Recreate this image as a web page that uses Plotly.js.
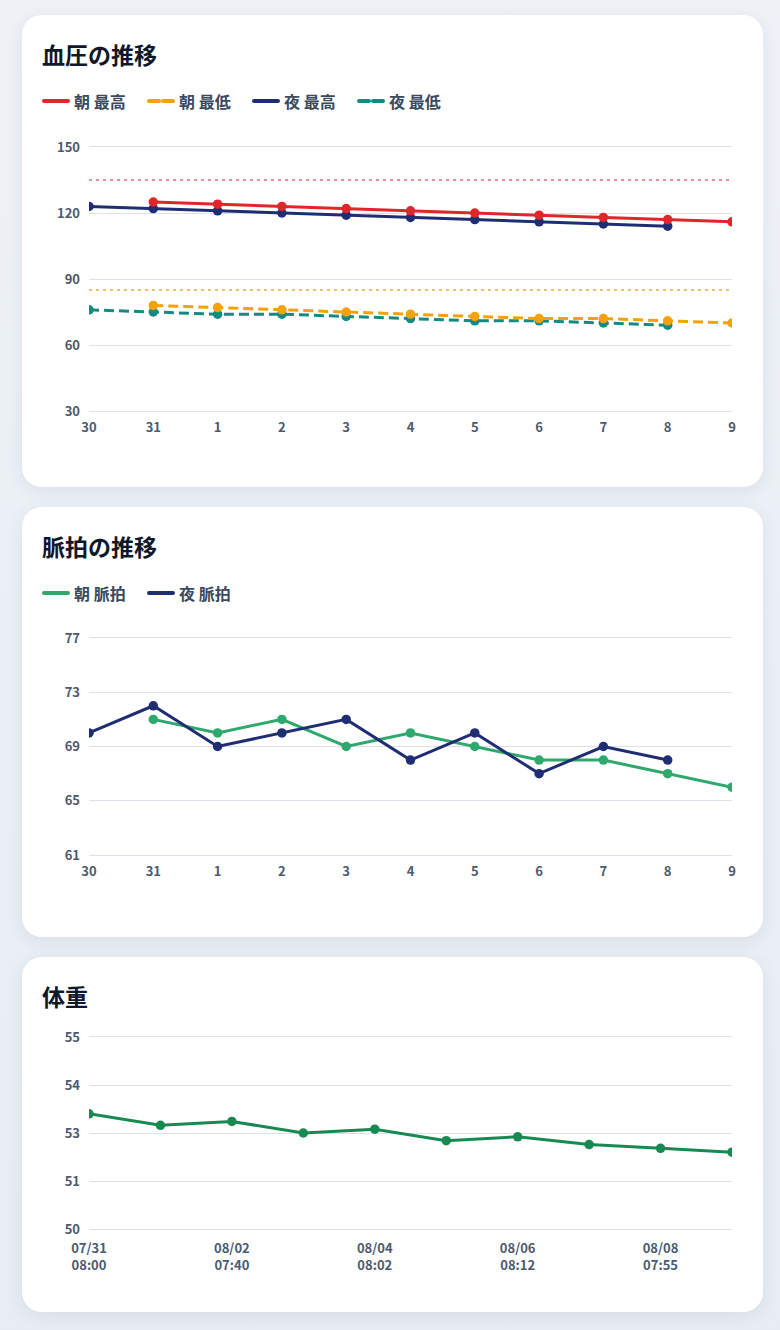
<!DOCTYPE html>
<html lang="ja">
<head>
<meta charset="utf-8">
<script src="https://cdn.plot.ly/plotly-3.0.1.min.js"></script>
<style>
  html, body { margin: 0; padding: 0; }
  body {
    width: 780px; height: 1330px; overflow: hidden;
    background: linear-gradient(180deg, #eef2f7 0%, #e8edf4 100%);
    font-family: "Noto Sans CJK JP", "Noto Sans", sans-serif;
  }
  .card {
    position: absolute; left: 22px; width: 741px;
    background: #fff; border-radius: 20px;
    box-shadow: 0 4px 18px rgba(30, 41, 59, 0.08);
  }
  .card h2 {
    position: absolute; left: 20px; top: 21px; margin: 0;
    font-size: 23px; font-weight: 700; color: #0f172a; line-height: 36px;
  }
  .legend {
    position: absolute; left: 20px; top: 74px; height: 24px;
    display: flex; align-items: center;
  }
  .legend .item {
    display: flex; align-items: center; width: 105px;
    font-size: 16px; font-weight: 700; color: #3b4a5e;
  }
  .legend svg { margin-right: 4px; }
  .plot { position: absolute; left: 0; width: 741px; }
</style>
</head>
<body>
<div class="card" id="card1" style="top:15px;height:472px;">
  <h2>血圧の推移</h2>
  <div class="legend" id="legend1"></div>
  <div class="plot" id="bpChart" style="top:112px;height:340px;"></div>
</div>
<div class="card" id="card2" style="top:507px;height:430px;">
  <h2>脈拍の推移</h2>
  <div class="legend" id="legend2"></div>
  <div class="plot" id="pulseChart" style="top:111px;height:300px;"></div>
</div>
<div class="card" id="card3" style="top:957px;height:355px;">
  <h2>体重</h2>
  <div class="plot" id="weightChart" style="top:60px;height:285px;"></div>
</div>

<script>
// days shown on the blood pressure / pulse charts
const days = ["30", "31", "1", "2", "3", "4", "5", "6", "7", "8", "9"];

// blood pressure (null = no reading)
const morningSys = [null, 125, 124, 123, 122, 121, 120, 119, 118, 117, 116];
const morningDia = [null, 78, 77, 76, 75, 74, 73, 72, 72, 71, 70];
const eveningSys = [123, 122, 121, 120, 119, 118, 117, 116, 115, 114, null];
const eveningDia = [76, 75, 74, 74, 73, 72, 71, 71, 70, 69, null];
const sysLimit = 135;
const diaLimit = 85;

// pulse
const morningPulse = [null, 71, 70, 71, 69, 70, 69, 68, 68, 67, 66];
const eveningPulse = [70, 72, 69, 70, 71, 68, 70, 67, 69, 68, null];

// weight
const weightDates = ["07/31", "08/01", "08/02", "08/03", "08/04", "08/05", "08/06", "08/07", "08/08", "08/09"];
const weightTimes = ["08:00", "", "07:40", "", "08:02", "", "08:12", "", "07:55", ""];
const weightValues = [53.0, 52.7, 52.8, 52.5, 52.6, 52.3, 52.4, 52.2, 52.1, 52.0];
const weightTickVals = [50, 51.25, 52.5, 53.75, 55];
const weightTickText = ["50", "51", "53", "54", "55"];

const COLORS = {
  red: "#e0262b",
  orange: "#f4a20c",
  navy: "#1f2e72",
  teal: "#148a80",
  green: "#2ea86c",
  weight: "#168a50"
};

const GRID = "#dce2ea";
const FONT = "Noto Sans CJK JP, Noto Sans, sans-serif";

function buildLegend(elId, items) {
  const el = document.getElementById(elId);
  items.forEach(it => {
    const dash = it.dashed ? 'stroke-dasharray="10 4"' : "";
    const div = document.createElement("div");
    div.className = "item";
    div.innerHTML =
      '<svg width="28" height="6"><line x1="2" y1="3" x2="26" y2="3" stroke="' + it.color +
      '" stroke-width="4" stroke-linecap="round" ' + dash + '/></svg><span>' + it.name + '</span>';
    el.appendChild(div);
  });
}

function lineTrace(x, y, color, dashed) {
  return {
    x: x, y: y, type: "scatter", mode: "lines+markers",
    line: { color: color, width: 3, dash: dashed ? "10px,5px" : "solid" },
    marker: { color: color, size: 9.5 },
    connectgaps: false,
    showlegend: false,
    hoverinfo: "skip"
  };
}

function refLine(x, value, color) {
  return {
    x: x, y: x.map(() => value), type: "scatter", mode: "lines",
    line: { color: color, width: 1.5, dash: "3px,4px" },
    showlegend: false, hoverinfo: "skip"
  };
}

function baseLayout(margin, standoff) {
  return {
    margin: margin,
    paper_bgcolor: "rgba(0,0,0,0)",
    plot_bgcolor: "rgba(0,0,0,0)",
    showlegend: false,
    font: { family: FONT, color: "#4b5a70" },
    xaxis: {
      type: "category",
      showgrid: false, zeroline: false,
      // top and bottom grid lines (plotly drops grid lines at the range ends)
      showline: true, linecolor: GRID, linewidth: 1, mirror: true,
      ticks: "", ticklabelstandoff: standoff,
      tickfont: { family: FONT, size: 13, color: "#4b5a70", weight: 700 },
      fixedrange: true
    },
    yaxis: {
      showgrid: true, gridcolor: GRID, gridwidth: 1,
      zeroline: false, showline: false,
      ticks: "", ticklabelstandoff: 8,
      ticklabeloverflow: "allow",
      tickfont: { family: FONT, size: 13, color: "#4b5a70", weight: 700 },
      fixedrange: true
    }
  };
}

const config = { staticPlot: true, displayModeBar: false };

// --- blood pressure ---
buildLegend("legend1", [
  { name: "朝 最高", color: COLORS.red },
  { name: "朝 最低", color: COLORS.orange, dashed: true },
  { name: "夜 最高", color: COLORS.navy },
  { name: "夜 最低", color: COLORS.teal, dashed: true }
]);

const bpLayout = baseLayout({ l: 67, r: 31, t: 20, b: 56 }, 4);
bpLayout.xaxis.range = [0, days.length - 1];
bpLayout.yaxis.range = [30, 150];
bpLayout.yaxis.tickvals = [30, 60, 90, 120, 150];

Plotly.newPlot("bpChart", [
  refLine(days, sysLimit, "rgba(224,38,43,0.7)"),
  refLine(days, diaLimit, "rgba(222,160,40,0.85)"),
  lineTrace(days, eveningDia, COLORS.teal, true),
  lineTrace(days, morningDia, COLORS.orange, true),
  lineTrace(days, eveningSys, COLORS.navy, false),
  lineTrace(days, morningSys, COLORS.red, false)
], bpLayout, config);

// --- pulse ---
buildLegend("legend2", [
  { name: "朝 脈拍", color: COLORS.green },
  { name: "夜 脈拍", color: COLORS.navy }
]);

const pulseLayout = baseLayout({ l: 67, r: 31, t: 20, b: 63 }, 4);
pulseLayout.xaxis.range = [0, days.length - 1];
pulseLayout.yaxis.range = [61, 77];
pulseLayout.yaxis.tickvals = [61, 65, 69, 73, 77];

Plotly.newPlot("pulseChart", [
  lineTrace(days, morningPulse, COLORS.green, false),
  lineTrace(days, eveningPulse, COLORS.navy, false)
], pulseLayout, config);

// --- weight ---
const weightLayout = baseLayout({ l: 67, r: 31, t: 20, b: 73 }, 7);
weightLayout.xaxis.range = [0, weightDates.length - 1];
weightLayout.xaxis.tickvals = weightDates.filter((d, i) => weightTimes[i] !== "");
weightLayout.xaxis.ticktext = weightDates
  .map((d, i) => weightTimes[i] !== "" ? d + "<br>" + weightTimes[i] : null)
  .filter(t => t !== null);
weightLayout.yaxis.range = [50, 55];
weightLayout.yaxis.tickvals = weightTickVals;
weightLayout.yaxis.ticktext = weightTickText;

Plotly.newPlot("weightChart", [
  lineTrace(weightDates, weightValues, COLORS.weight, false)
], weightLayout, config);
</script>
</body>
</html>
